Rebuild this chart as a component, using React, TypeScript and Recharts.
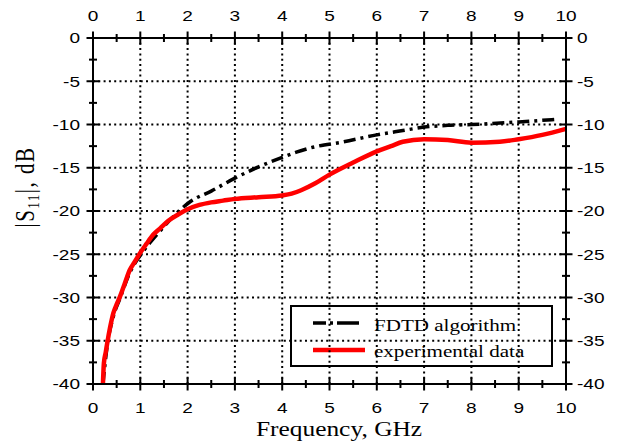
import { LineChart, Line, XAxis, YAxis, ReferenceLine } from 'recharts';

// axis ticks (minor ticks at the half steps)
const xTicks = [0, 0.5, 1, 1.5, 2, 2.5, 3, 3.5, 4, 4.5, 5, 5.5, 6, 6.5, 7, 7.5, 8, 8.5, 9, 9.5, 10];
const yTicks = [-40, -37.5, -35, -32.5, -30, -27.5, -25, -22.5, -20, -17.5, -15, -12.5, -10, -7.5, -5, -2.5, 0];
const xGrid = [1, 2, 3, 4, 5, 6, 7, 8, 9];
const yGrid = [-35, -30, -25, -20, -15, -10, -5];

// FDTD simulation, |S11| in dB vs frequency in GHz
const fdtdFreq = [0.21, 0.3, 0.43, 0.57, 0.78, 0.99, 1.2, 1.42, 1.6, 1.8, 2.06, 2.5, 3.0, 3.5, 4.0, 4.3, 4.6, 5.3, 6.0, 6.55, 7.0, 7.5, 8.0, 9.0, 9.8];
const fdtdS11 = [-40, -35.6, -32.2, -30.1, -27.1, -25.2, -23.7, -22.3, -21.2, -20.1, -18.9, -17.7, -16.2, -14.9, -13.8, -13.2, -12.7, -12.0, -11.2, -10.7, -10.3, -10.1, -10.0, -9.7, -9.4];

// measurement
const expFreq = [0.21, 0.23, 0.27, 0.3, 0.36, 0.43, 0.5, 0.57, 0.67, 0.78, 0.88, 0.99, 1.13, 1.28, 1.42, 1.6, 1.8, 2.0, 2.25, 2.5, 2.75, 3.0, 3.5, 4.0, 4.2, 4.4, 4.7, 5.0, 5.5, 6.0, 6.3, 6.55, 7.0, 7.5, 8.0, 8.6, 9.0, 9.5, 10.0];
const expS11 = [-40, -37.6, -36.3, -35.3, -33.5, -31.8, -30.8, -29.9, -28.4, -26.8, -25.9, -24.9, -23.8, -22.7, -22.0, -21.1, -20.4, -19.8, -19.3, -19.0, -18.8, -18.6, -18.4, -18.2, -18.0, -17.6, -16.8, -15.8, -14.4, -13.1, -12.5, -12.0, -11.7, -11.8, -12.1, -12.0, -11.7, -11.2, -10.5];

const toRows = (f: number[], v: number[]) => f.map((freq, i) => ({ f: freq, v: v[i] }));

// top/right axes share the domains of bottom/left, so FDTD is plotted on them
// (an axis without any series does not get drawn)
const series = [
  { name: 'FDTD algorithm', data: toRows(fdtdFreq, fdtdS11), xId: 'top', yId: 'right', color: '#000', width: 3.5, dash: '12 5 3 5', legendDash: '13 4 3 4 22' },
  { name: 'experimental data', data: toRows(expFreq, expS11), xId: 'bottom', yId: 'left', color: '#ff0000', width: 4.5, dash: undefined, legendDash: undefined },
];

// the original figure is stretched horizontally
const STRETCH = 1.27;
const SANS = '"Liberation Sans", Arial, sans-serif';
const SERIF = '"Liberation Serif", "Times New Roman", serif';

type Side = 'top' | 'bottom' | 'left' | 'right';

function makeTick(side: Side) {
  return (props: any) => {
    const { x, y, payload } = props;
    const v = payload.value as number;
    const horizontal = side === 'top' || side === 'bottom';
    const major = horizontal ? Number.isInteger(v) : v % 5 === 0;
    const len = major ? 6.5 : 4;
    let label = null;
    if (major) {
      let tx = x, ty = y, anchor = 'middle', dy = '0';
      if (side === 'bottom') ty = y + 29;
      if (side === 'top') ty = y - 16.6;
      if (side === 'left') { tx = x - 13; anchor = 'end'; dy = '0.36em'; }
      if (side === 'right') { tx = x + 11; anchor = 'start'; dy = '0.36em'; }
      label = (
        <text
          transform={`translate(${tx},${ty}) scale(${STRETCH},1)`}
          textAnchor={anchor}
          dy={dy}
          fontFamily={SANS}
          fontSize={15}
          fill="#000"
        >
          {String(v)}
        </text>
      );
    }
    return (
      <g>
        {horizontal
          ? <line x1={x} x2={x} y1={y - len} y2={y + len} stroke="#000" strokeWidth={2} />
          : <line x1={x - len} x2={x + len} y1={y} y2={y} stroke="#000" strokeWidth={2} />}
        {label}
      </g>
    );
  };
}

function LegendBox() {
  return (
    <g>
      <rect x={291} y={306} width={261} height={60} fill="#fff" stroke="#000" strokeWidth={2} />
      {series.map((s, i) => (
        <g key={s.name}>
          <line
            x1={313}
            x2={i === 0 ? 359 : 365}
            y1={323 + i * 27}
            y2={323 + i * 27}
            stroke={s.color}
            strokeWidth={s.width}
            strokeDasharray={s.legendDash}
          />
          <text
            transform={`translate(374,${331 + i * 26}) scale(1.24,1)`}
            fontFamily={SERIF}
            fontSize={17}
            fill="#000"
          >
            {s.name}
          </text>
        </g>
      ))}
    </g>
  );
}

export default function App() {
  const axisLine = { stroke: '#000', strokeWidth: 2 };
  return (
    <div style={{ position: 'absolute', left: 0, top: 0, background: '#fff' }}>
      <LineChart width={618} height={445} margin={{ top: 37, right: 51, bottom: 60, left: 92 }}>
        <XAxis xAxisId="bottom" dataKey="f" type="number" domain={[0, 10]} ticks={xTicks} interval={0}
          height={1} tickSize={0} tickMargin={0} tickLine={false} axisLine={axisLine} tick={makeTick('bottom')} allowDuplicatedCategory={false} />
        <XAxis xAxisId="top" orientation="top" dataKey="f" type="number" domain={[0, 10]} ticks={xTicks} interval={0}
          height={1} tickSize={0} tickMargin={0} tickLine={false} axisLine={axisLine} tick={makeTick('top')} allowDuplicatedCategory={false} />
        <YAxis yAxisId="left" type="number" domain={[-40, 0]} ticks={yTicks} interval={0}
          width={1} tickSize={0} tickMargin={0} tickLine={false} axisLine={axisLine} tick={makeTick('left')} />
        <YAxis yAxisId="right" orientation="right" type="number" domain={[-40, 0]} ticks={yTicks} interval={0}
          width={1} tickSize={0} tickMargin={0} tickLine={false} axisLine={axisLine} tick={makeTick('right')} />

        {xGrid.map((g) => (
          <ReferenceLine key={`x${g}`} x={g} xAxisId="bottom" yAxisId="left" stroke="#000" strokeWidth={2} strokeDasharray="2 3.3" />
        ))}
        {yGrid.map((g) => (
          <ReferenceLine key={`y${g}`} y={g} xAxisId="bottom" yAxisId="left" stroke="#000" strokeWidth={2} strokeDasharray="2 3.3" />
        ))}

        {series.map((s) => (
          <Line
            key={s.name}
            data={s.data}
            dataKey="v"
            name={s.name}
            xAxisId={s.xId}
            yAxisId={s.yId}
            type="monotone"
            stroke={s.color}
            strokeWidth={s.width}
            strokeDasharray={s.dash}
            dot={false}
            isAnimationActive={false}
          />
        ))}

        <LegendBox />

        <text transform={`translate(339,436) scale(${STRETCH},1)`} textAnchor="middle" fontFamily={SERIF} fontSize={20} fill="#000">
          Frequency, GHz
        </text>
        <text transform="translate(33.5,187) rotate(-90) scale(1,1.27)" textAnchor="middle" fontFamily={SERIF} fontSize={21} letterSpacing={1.5} fill="#000">
          |S<tspan fontSize={13} dy={4}>11</tspan><tspan dy={-4}>|, dB</tspan>
        </text>
      </LineChart>
    </div>
  );
}
